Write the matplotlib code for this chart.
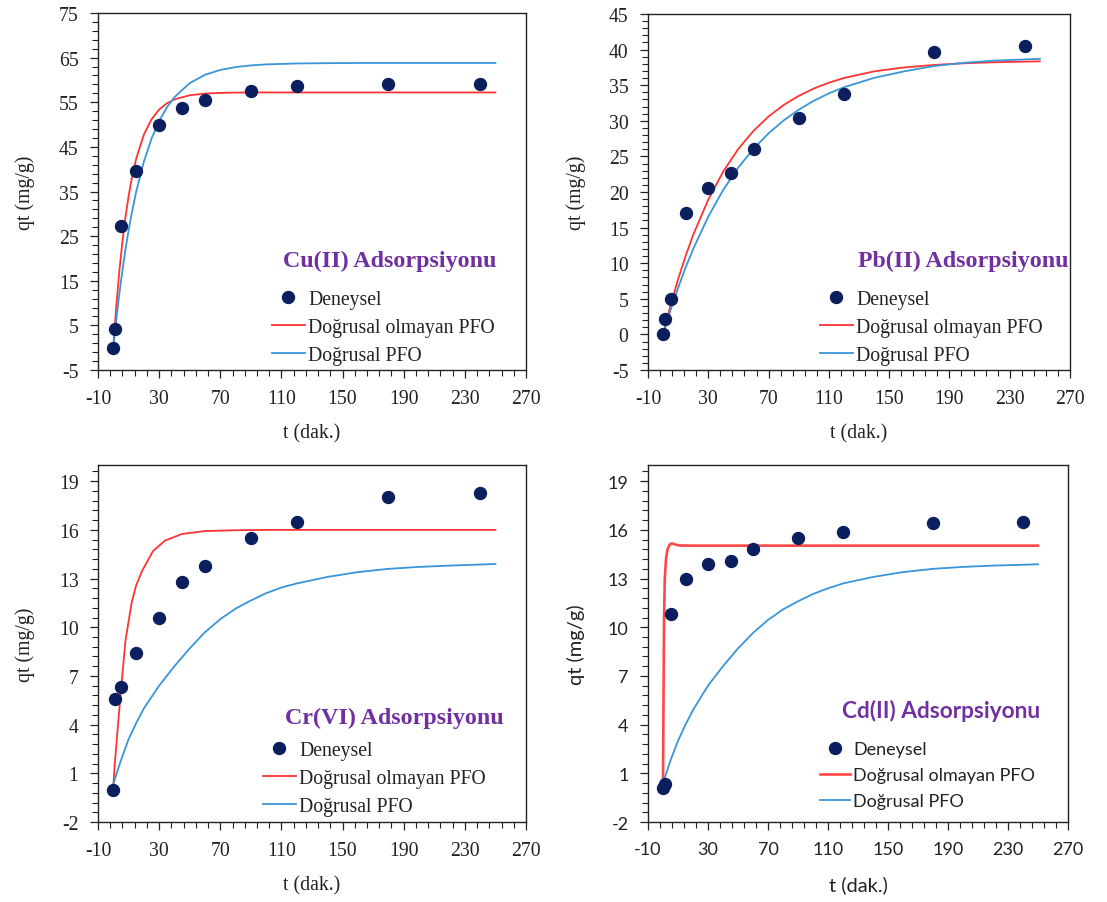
import numpy as np
import matplotlib
matplotlib.use("Agg")
import matplotlib.pyplot as plt
from matplotlib.ticker import FixedLocator

plt.rcParams["font.family"] = ["Liberation Serif", "DejaVu Sans"]

# Experimental contact times (dak.)
t_exp = [0, 1, 5, 15, 30, 45, 60, 90, 120, 180, 240]

# Measured uptake qt (mg/g)
cu_exp = [0.0, 4.1, 27.2, 39.6, 49.9, 53.7, 55.6, 57.5, 58.7, 59.1, 59.1]
pb_exp = [0.0, 2.1, 5.0, 17.0, 20.6, 22.6, 26.1, 30.4, 33.7, 39.6, 40.5]
cr_exp = [0.0, 5.6, 6.3, 8.4, 10.6, 12.8, 13.8, 15.5, 16.5, 18.0, 18.3]
cd_exp = [0.1, 0.35, 10.8, 13.0, 13.9, 14.1, 14.8, 15.5, 15.9, 16.4, 16.5]

# Cu(II) PFO model curves
cu_t = [0, 1, 2, 4, 6, 8, 10, 12, 15, 20, 25, 30, 35, 40, 50, 60, 70, 80,
        90, 100, 120, 140, 160, 250]
cu_nl = [0, 4.92, 9.42, 17.29, 23.87, 29.36, 33.94, 37.78, 42.37, 47.74,
         51.17, 53.36, 54.75, 55.64, 56.57, 56.94, 57.10, 57.16, 57.2, 57.2,
         57.2, 57.2, 57.2, 57.2]
cu_lin = [0, 3.29, 6.42, 12.19, 17.38, 22.05, 26.25, 30.02, 34.99, 41.69,
          46.84, 50.79, 53.82, 56.14, 59.29, 61.15, 62.24, 62.88, 63.26, 63.48,
          63.69, 63.76, 63.8, 63.8]

# Pb(II) PFO model curves
pb_t = [0, 2, 5, 10, 15, 20, 30, 40, 50, 60, 70, 80, 90, 100, 110, 120,
        140, 160, 180, 200, 220, 250]
pb_nl = [0, 1.70, 4.11, 7.78, 11.05, 13.99, 18.94, 22.91, 26.07, 28.59,
         30.61, 32.22, 33.50, 34.53, 35.35, 36.01, 36.94, 37.50, 37.85, 38.08,
         38.22, 38.35]
pb_lin = [0, 1.41, 3.43, 6.56, 9.41, 12.01, 16.54, 20.32, 23.46, 26.07,
          28.24, 30.05, 31.56, 32.81, 33.85, 34.71, 36.03, 36.95, 37.70, 38.15,
          38.45, 38.70]

# Cr(VI) PFO model curves
cr_t_nl = [0, 1, 3, 5, 8, 12, 15, 19, 26, 34, 45, 60, 80, 100, 250]
cr_nl = [0.2, 1.6, 3.9, 6.1, 9.2, 11.5, 12.6, 13.5, 14.7, 15.35, 15.75,
         15.93, 15.98, 16.0, 16.0]
lin_t = [0, 5, 10, 15, 20, 30, 40, 50, 60, 70, 80, 90, 100, 110, 120, 140,
         160, 180, 200, 220, 250]
cr_lin = [0.35, 1.8, 3.1, 4.1, 5.0, 6.4, 7.6, 8.7, 9.7, 10.5, 11.15, 11.65,
          12.1, 12.45, 12.7, 13.1, 13.4, 13.6, 13.72, 13.8, 13.9]

# Cd(II) PFO model curves
cd_t_nl = [0, 0.3, 0.7, 1.2, 2, 3, 4.5, 6, 8, 11, 20, 250]
cd_nl = [0.2, 5.0, 10.5, 13.0, 14.2, 14.8, 15.1, 15.17, 15.1, 15.04, 15.03,
         15.03]
cd_lin = [0.4, 1.8, 3.0, 4.0, 4.9, 6.4, 7.6, 8.7, 9.65, 10.45, 11.1, 11.6,
          12.05, 12.4, 12.7, 13.1, 13.4, 13.6, 13.72, 13.8, 13.88]

labels = ["Deneysel", "Doğrusal olmayan PFO", "Doğrusal PFO"]
x_ticks = [-10, 30, 70, 110, 150, 190, 230, 270]

DOT = "#0B1F5E"
RED = "#FF3333"
BLUE = "#3A95D8"
PURPLE = "#7030A0"
INK = "#222222"

W, H = 1107, 903
fig = plt.figure(figsize=(W / 100, H / 100), dpi=100)


def frac_rect(left, right, top, bottom):
    return [left / W, 1 - bottom / H, (right - left) / W, (bottom - top) / H]


def panel(rect, t_nl, q_nl, t_lin, q_lin, q_exp, ylim, ystep, title,
          title_px, legend_px, family, fs, afs, tfs, lspace, ylab_x,
          red_lw=1.3, red_color=RED):
    ax = fig.add_axes(frac_rect(*rect))
    l_nl, = ax.plot(t_nl, q_nl, color=red_color, lw=red_lw, zorder=2)
    l_lin, = ax.plot(t_lin, q_lin, color=BLUE, lw=1.3, zorder=2)
    dots, = ax.plot(t_exp, q_exp, "o", color=DOT, ms=8.6, ls="none", zorder=3)

    ax.set_xlim(-10, 270)
    ax.set_ylim(*ylim)
    ymaj = np.arange(ylim[0], ylim[1] + 1e-9, ystep)
    ax.yaxis.set_major_locator(FixedLocator(ymaj))
    ax.yaxis.set_minor_locator(
        FixedLocator(np.arange(ylim[0], ylim[1] + 1e-9, ystep / 5)))
    ax.xaxis.set_major_locator(FixedLocator(x_ticks))
    ax.xaxis.set_minor_locator(FixedLocator(np.arange(-10, 270.1, 8)))
    ax.set_yticklabels([f"{v:g}" for v in ymaj])
    ax.set_xticklabels([f"{v:g}" for v in x_ticks])
    ax.tick_params(which="major", direction="out", length=6, width=0.9,
                   labelsize=fs, pad=8, colors=INK, labelcolor=INK)
    ax.tick_params(which="minor", direction="out", length=4.5, width=0.8,
                   colors=INK)
    for lab in ax.get_xticklabels() + ax.get_yticklabels():
        lab.set_family(family)
    for s in ax.spines.values():
        s.set_linewidth(1.0)
        s.set_color(INK)

    ax.set_xlabel("t (dak.)", family=family, fontsize=afs, color=INK)
    ax.set_ylabel("qt (mg/g)", family=family, fontsize=afs, color=INK)
    ax.xaxis.set_label_coords(0.5, -0.15)
    ax.yaxis.set_label_coords(ylab_x, 0.5)

    ax.text(title_px[0] / W, 1 - title_px[1] / H, title,
            transform=fig.transFigure, ha="center", va="center",
            family=family, fontsize=tfs, fontweight="bold", color=PURPLE)

    leg = ax.legend([dots, l_nl, l_lin], labels, loc="upper left",
                    bbox_to_anchor=(legend_px[0] / W, 1 - legend_px[1] / H),
                    bbox_transform=fig.transFigure, frameon=False,
                    borderpad=0, borderaxespad=0, handlelength=1.65,
                    handletextpad=0.2, labelspacing=lspace,
                    prop={"family": family, "size": fs})
    for txt in leg.get_texts():
        txt.set_color(INK)
    return ax


serif = "Liberation Serif"
sans = "Lato"

panel((98, 526, 14, 371), cu_t, cu_nl, cu_t, cu_lin, cu_exp, (-5, 75), 10,
      "Cu(II) Adsorpsiyonu", (390, 261), (272, 291), serif, 14.2, 14.2, 17.3,
      0.45, -0.148)
panel((648, 1070, 15, 371), pb_t, pb_nl, pb_t, pb_lin, pb_exp, (-5, 45), 5,
      "Pb(II) Adsorpsiyonu", (963, 261), (820, 291), serif, 14.2, 14.2, 17.3,
      0.45, -0.148)
panel((98, 526, 466, 823), cr_t_nl, cr_nl, lin_t, cr_lin, cr_exp, (-2, 20), 3,
      "Cr(VI) Adsorpsiyonu", (394, 718), (263, 742), serif, 14.2, 14.2, 17.3,
      0.45, -0.148)
panel((648, 1068, 466, 823), cd_t_nl, cd_nl, lin_t, cd_lin, cd_exp, (-2, 20), 3,
      "Cd(II) Adsorpsiyonu", (941, 711), (820, 742), sans, 13, 14.5, 16.3,
      0.55, -0.15, red_lw=1.9, red_color="#FF4747")

fig.savefig("out.png", dpi=100, facecolor="white")
